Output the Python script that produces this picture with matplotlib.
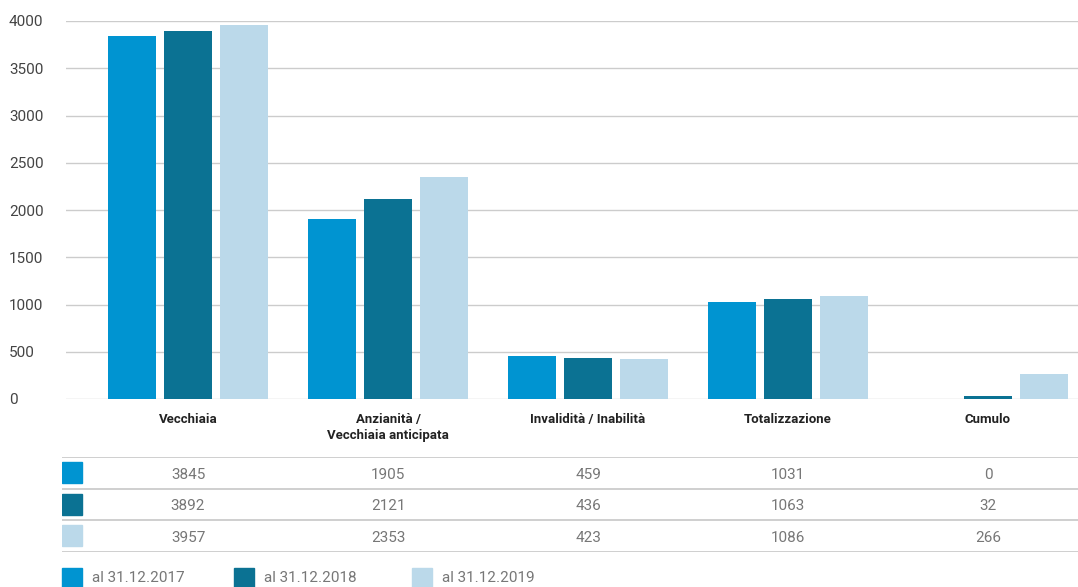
import numpy as np
import matplotlib.pyplot as plt
from matplotlib.patches import Rectangle

categories = ["Vecchiaia", "Anzianità /\nVecchiaia anticipata", "Invalidità / Inabilità",
              "Totalizzazione", "Cumulo"]
series_names = ["al 31.12.2017", "al 31.12.2018", "al 31.12.2019"]
v2017 = [3845, 1905, 459, 1031, 0]
v2018 = [3892, 2121, 436, 1063, 32]
v2019 = [3957, 2353, 423, 1086, 266]
yticks = [0, 500, 1000, 1500, 2000, 2500, 3000, 3500, 4000]

colors = ["#0094d1", "#0b7293", "#bbd9ea"]
grid_col = "#cccccc"
W, H = 1078, 587

plt.rcParams['font.family'] = ['Roboto', 'DejaVu Sans']


def fx(p):
    return p / W


def fy(p):
    return 1 - p / H


fig = plt.figure(figsize=(W / 100, H / 100), dpi=100)

# main bar axes
ax = fig.add_axes([fx(66), fy(399), fx(1078 - 66), (399 - 21) / H])
x = np.arange(len(categories))
all_vals = [v2017, v2018, v2019]
offsets = [-0.278, 0, 0.278]
for vals, off, c in zip(all_vals, offsets, colors):
    ax.bar(x + off, vals, width=0.24, color=c, zorder=3)
ax.set_xlim((66 - 188) / 200, (1078 - 188) / 200)
ax.set_ylim(0, 4000)
ax.set_yticks(yticks)
ax.set_yticklabels([str(t) for t in yticks], fontsize=11, color="#444444", ha="left")
ax.tick_params(axis="y", length=0, pad=41)
ax.set_xticks(x)
ax.set_xticklabels(categories, fontsize=9.5, fontweight="bold", color="#222222",
                   va="top", linespacing=1.35)
ax.tick_params(axis="x", length=0, pad=10)
ax.grid(axis="y", color=grid_col, linewidth=1, zorder=0)
for s in ax.spines.values():
    s.set_visible(False)

# data table
tax = fig.add_axes([fx(62), fy(552), fx(1078 - 62), (552 - 457) / H])
tax.set_xlim((62 - 188) / 200, (1078 - 188) / 200)
tax.set_ylim(3, 0)
tax.axis("off")
for r in range(4):
    tax.axhline(r, color=grid_col, linewidth=1.3)
for r, (vals, c) in enumerate(zip(all_vals, colors)):
    tax.add_patch(Rectangle(((62 - 188) / 200, r + 0.16), 20 / 200, 0.66, color=c))
    for i, v in enumerate(vals):
        tax.text(i, r + 0.56, str(v), ha="center", va="center", fontsize=11, color="#777777")

# legend
leg_x = [62, 234, 412]
for lx, name, c in zip(leg_x, series_names, colors):
    fig.add_artist(Rectangle((fx(lx), fy(587)), fx(20), 19 / H, color=c,
                             transform=fig.transFigure))
    fig.text(fx(lx + 30), fy(578), name, ha="left", va="center", fontsize=11,
             color="#777777")

fig.savefig("out.png", dpi=100)
